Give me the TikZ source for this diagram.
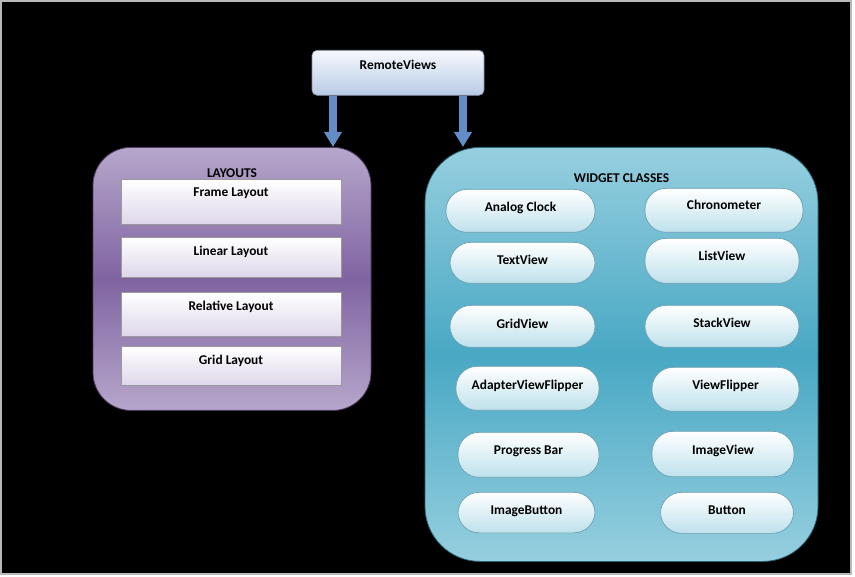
\documentclass[tikz,border=0pt]{standalone}
\usepackage{fontspec}
\setmainfont{Carlito}
\usetikzlibrary{arrows.meta, positioning, shadings}

\definecolor{remtop}{RGB}{246,249,253}
\definecolor{rembot}{RGB}{184,204,230}
\definecolor{arrowblue}{RGB}{98,141,199}
\definecolor{lavlight}{RGB}{182,166,203}
\definecolor{lavdark}{RGB}{128,100,162}
\definecolor{laybot}{RGB}{222,214,234}
\definecolor{teallight}{RGB}{150,207,223}
\definecolor{tealdark}{RGB}{72,168,196}
\definecolor{pillbot}{RGB}{190,225,236}
\definecolor{pilledge}{RGB}{110,160,178}

\begin{document}
\begin{tikzpicture}[
		x=1pt, y=-1pt,
		every node/.style={font=\fontsize{13.4}{15}\selectfont\bfseries, inner sep=0pt, text=black},
		remote/.style={draw=rembot!70!black, line width=0.6pt, rounded corners=5pt, top color=remtop, bottom color=rembot, minimum width=172pt},
		group/.style={draw=#1!60!black, line width=0.8pt, rounded corners=38pt},
		laybox/.style={draw=gray!80, line width=0.6pt, top color=white, bottom color=laybot, minimum width=220pt},
		pill/.style={draw=pilledge, line width=0.7pt, rounded corners=21pt, top color=white, bottom color=pillbot},
		feed/.style={-{Triangle[length=15pt, width=17pt]}, line width=8pt, arrowblue}
		]
		% outer frame
		\fill[white] (0,0) rectangle (855,577);
		\draw[fill=black, draw=gray!55, line width=1.5pt] (1,1) rectangle (851,574);
		\useasboundingbox (0,0) rectangle (855,577);

		% the two groups
		\node[group=lavdark, top color=lavlight, bottom color=lavlight, middle color=lavdark, minimum width=278pt, text height=30.5pt, text depth=232.5pt, anchor=north] (layouts) at (232,147) {LAYOUTS};
		\node[group=tealdark, rounded corners=55pt, top color=teallight, bottom color=teallight, middle color=tealdark, minimum width=393pt, text height=35.5pt, text depth=378.5pt, anchor=north] (widgets) at (621.5,147) {WIDGET CLASSES};

		% layouts
		\node[laybox, text height=17.5pt, text depth=27.5pt, anchor=north] (frame) at (231,179) {Frame Layout};
		\node[laybox, text height=18.5pt, text depth=21.5pt, anchor=north] (linear) at (231,237) {Linear Layout};
		\node[laybox, text height=18.5pt, text depth=25.5pt, anchor=north] (relative) at (231,292) {Relative Layout};
		\node[laybox, text height=18.5pt, text depth=20.5pt, anchor=north] (grid) at (231,346) {Grid Layout};

		% widget classes, left column
		\node[pill, minimum width=149pt, text height=22pt, text depth=21pt, anchor=north] (clock) at (520.5,189) {Analog Clock};
		\node[pill, minimum width=145pt, text height=22pt, text depth=19pt, anchor=north] (textview) at (522.5,242) {TextView};
		\node[pill, minimum width=145pt, text height=23pt, text depth=19pt, anchor=north] (gridview) at (522.5,305) {GridView};
		\node[pill, minimum width=143pt, text height=23pt, text depth=21pt, anchor=north] (adapter) at (527.5,366) {AdapterViewFlipper};
		\node[pill, minimum width=141pt, text height=22.5pt, text depth=22.5pt, anchor=north] (progress) at (528.5,432) {Progress Bar};
		\node[pill, minimum width=137pt, text height=22pt, text depth=18.5pt, anchor=north] (imgbutton) at (526.5,492) {ImageButton};

		% widget classes, right column
		\node[pill, minimum width=158pt, text height=21pt, text depth=23pt, anchor=north] (chrono) at (724,188) {Chronometer};
		\node[pill, minimum width=154pt, text height=22pt, text depth=23pt, anchor=north] (listview) at (722,238) {ListView};
		\node[pill, minimum width=154pt, text height=22.5pt, text depth=19.5pt, anchor=north] (stackview) at (722,305) {StackView};
		\node[pill, minimum width=147pt, text height=22pt, text depth=22pt, anchor=north] (viewflip) at (725.5,367) {ViewFlipper};
		\node[pill, minimum width=142pt, text height=23pt, text depth=22.5pt, anchor=north] (imageview) at (723,431) {ImageView};
		\node[pill, minimum width=133pt, text height=22pt, text depth=19pt, anchor=north] (button) at (727,492) {Button};

		% top box and its arrows
		\node[remote, text height=19.5pt, text depth=25.5pt, anchor=north] (remote) at (398,50) {RemoteViews};
		\draw[feed] ([xshift=-65pt]remote.south) -- ([xshift=-65pt]remote.south |- layouts.north);
		\draw[feed] ([xshift=65pt]remote.south) -- ([xshift=65pt]remote.south |- widgets.north);
	\end{tikzpicture}
\end{document}
